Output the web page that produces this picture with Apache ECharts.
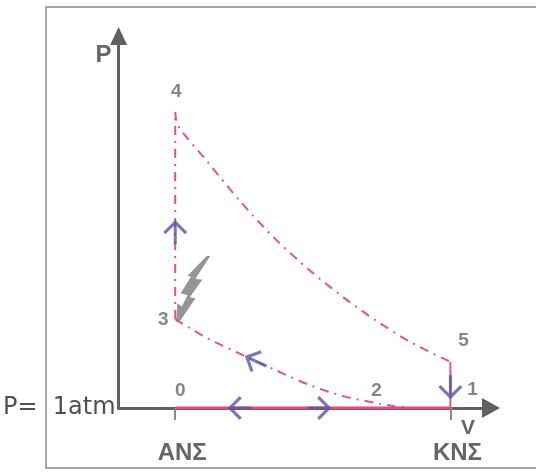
<!DOCTYPE html>
<html>
<head>
<meta charset="utf-8">
<script src="https://cdn.jsdelivr.net/npm/echarts@6/dist/echarts.min.js"></script>
<style>html,body{margin:0;padding:0;background:#fff}#c{width:536px;height:476px}</style>
</head>
<body>
<div id="c"></div>
<script>
// ---- data (V, P in arbitrary units; P = 0 is the 1 atm line) ----
const stateNames = ['0', '1', '2', '3', '4', '5'];
const stateV = [15.2, 89.1, 78.4, 15.2, 15.2, 89.1];
const stateP = [0, 0, 0, 23.9, 79.6, 12.4];

const expansionV = [15.2, 16.0, 23.7, 32.8, 42.1, 51.2, 60.3, 69.3, 78.4, 89.1];
const expansionP = [79.6, 75.8, 66.4, 55.4, 45.4, 37.1, 29.8, 23.4, 17.7, 12.4];

const compressionV = [15.2, 23.7, 33.9, 42.1, 51.2, 60.3, 69.3, 73.9, 78.4];
const compressionP = [23.9, 18.8, 14.0, 10.2, 6.2, 3.2, 1.3, 0.5, 0];

const arrowV = [15.2, 36.8, 32.5, 53.9, 89.1];
const arrowP = [47.3, 12.6, 0, 0, 5.6];
const arrowDir = [0, 65, 90, -90, 180];

const vTickValues = [15.2, 89.1];
const vTickLabels = ['ΑΝΣ', 'ΚΝΣ'];
const pTickValues = [0];
const pTickLabels = ['P=  1atm'];
const axisNames = { x: 'V', y: 'P' };

// ---- styles ----
const PINK = '#e8508a';
const BLUE = '#5158a6';
const GREY = '#666666';
const dashDot = [9, 6, 2, 6];
const labelOffsets = { '0': [5, -17], '1': [22, -18], '2': [-34, -17], '3': [-12, 1], '4': [1, -20], '5': [13, -21] };
const ARROW = 'path://M12,0 L24,12 L21.8,14.2 L13.5,5.9 L13.5,24 L10.5,24 L10.5,5.9 L2.2,14.2 L0,12 Z';
const BOLT = 'path://M30,0 L17,22 L23,23 L12,40 L17,41 L4,62 L0,64 L1,46 L5,49 L10,38 L4,36 L13,20 L10,19 L27,0 Z';

const pt = (i) => [stateV[i], stateP[i]];
const zip = (a, b) => a.map((v, i) => [v, b[i]]);

const chart = echarts.init(document.getElementById('c'));
chart.setOption({
  backgroundColor: '#ffffff',
  animation: false,
  grid: { left: 116, right: 45, top: 36, bottom: 68, containLabel: false },
  graphic: [{
    type: 'rect', z: -1, silent: true,
    shape: { x: 46, y: 7, width: 540, height: 461 },
    style: { fill: 'none', stroke: '#8a8a8a', lineWidth: 1.5 }
  }],
  xAxis: {
    type: 'value', min: 0, max: 100,
    name: axisNames.x, nameLocation: 'end', nameGap: -23,
    nameTextStyle: { color: GREY, fontSize: 21, fontWeight: 'bold', fontFamily: 'Liberation Sans', align: 'center', verticalAlign: 'top', padding: [10, 0, 0, 0] },
    axisLine: { show: true, symbol: ['none', 'triangle'], symbolSize: [20, 18], lineStyle: { color: '#606060', width: 3 } },
    axisTick: { show: true, customValues: vTickValues, length: 12, lineStyle: { color: '#8a8a8a', width: 2 } },
    axisLabel: {
      show: true, customValues: vTickValues, margin: 33, verticalAlign: 'top', padding: [0, 0, 0, 14],
      formatter: (v) => vTickLabels[vTickValues.indexOf(v)] || '',
      color: GREY, fontSize: 24, fontWeight: 'bold', fontFamily: 'Liberation Sans'
    },
    splitLine: { show: false }
  },
  yAxis: {
    type: 'value', min: 0, max: 100,
    name: axisNames.y, nameLocation: 'end', nameGap: -19,
    nameTextStyle: { color: GREY, fontSize: 24, fontWeight: 'bold', fontFamily: 'Liberation Sans', align: 'right', verticalAlign: 'middle', padding: [0, 7, 0, 0] },
    axisLine: { show: true, symbol: ['none', 'triangle'], symbolSize: [17, 18], lineStyle: { color: '#606060', width: 3 } },
    axisTick: { show: false },
    axisLabel: {
      show: true, customValues: pTickValues, margin: 3, padding: [0, 0, 10, 0],
      formatter: (v) => pTickLabels[pTickValues.indexOf(v)] || '',
      color: '#505050', fontSize: 24, fontFamily: 'DejaVu Sans'
    },
    splitLine: { show: false }
  },
  series: [
    { name: 'intake-exhaust', type: 'line', data: [pt(0), pt(1)], symbol: 'none', z: 3,
      lineStyle: { color: '#e9457f', width: 3 } },
    { name: 'compression', type: 'line', data: zip(compressionV, compressionP), symbol: 'none', smooth: 0.3, z: 2,
      lineStyle: { color: PINK, width: 2, type: dashDot } },
    { name: 'combustion', type: 'line', data: [pt(3), pt(4)], symbol: 'none', z: 2,
      lineStyle: { color: PINK, width: 2, type: dashDot } },
    { name: 'expansion', type: 'line', data: zip(expansionV, expansionP), symbol: 'none', smooth: 0.3, z: 2,
      lineStyle: { color: PINK, width: 2, type: dashDot } },
    { name: 'blowdown', type: 'line', data: [pt(5), pt(1)], symbol: 'none', z: 2,
      lineStyle: { color: PINK, width: 2 } },
    { name: 'spark', type: 'scatter', data: [pt(3)], symbol: BOLT, symbolSize: [34, 66],
      symbolOffset: [18, -30], itemStyle: { color: '#7a7a7a' }, z: 4 },
    { name: 'flow', type: 'scatter', z: 5,
      data: arrowV.map((v, i) => ({ value: [v, arrowP[i]], symbolRotate: arrowDir[i] })),
      symbol: ARROW, symbolSize: [24, 24], itemStyle: { color: BLUE } },
    { name: 'states', type: 'scatter', z: 6,
      data: stateNames.map((n, i) => ({ name: n, value: pt(i),
        label: { offset: labelOffsets[n] } })),
      symbolSize: 0.1, itemStyle: { color: 'transparent' },
      label: { show: true, position: 'inside', formatter: (p) => p.name,
        color: GREY, fontSize: 19, fontWeight: 'bold', fontFamily: 'Liberation Sans' } }
  ]
});
</script>
</body>
</html>
